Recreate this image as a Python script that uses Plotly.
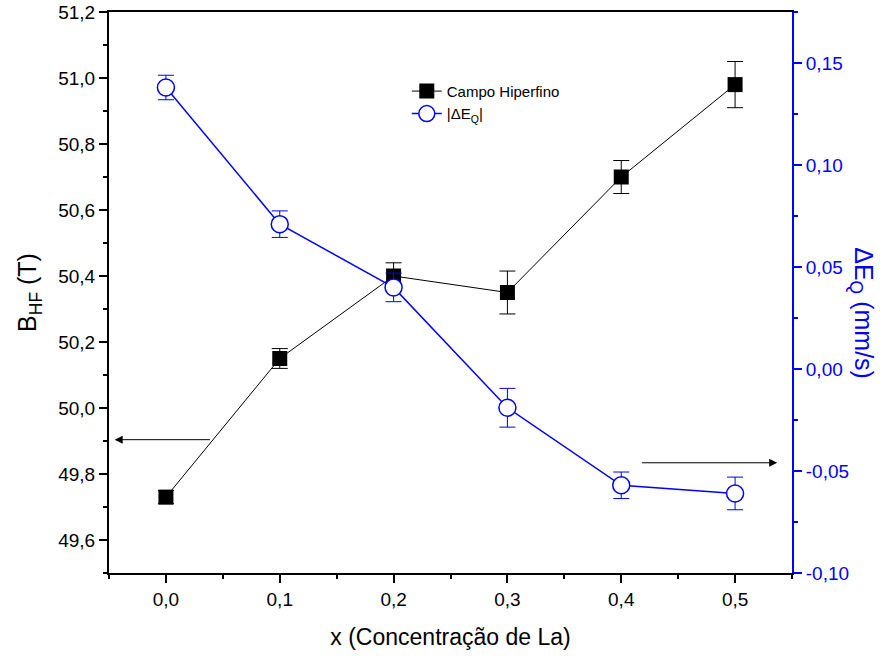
import plotly.graph_objects as go

x_conc = [0.0, 0.1, 0.2, 0.3, 0.4, 0.5]
b_hf = [49.73, 50.15, 50.40, 50.35, 50.70, 50.98]
b_hf_err = [0.02, 0.03, 0.04, 0.065, 0.05, 0.07]
deq = [0.138, 0.071, 0.040, -0.019, -0.057, -0.061]
deq_err = [0.006, 0.0065, 0.007, 0.0095, 0.0065, 0.008]

x_ticks = [0.0, 0.1, 0.2, 0.3, 0.4, 0.5]
x_ticktext = ["0,0", "0,1", "0,2", "0,3", "0,4", "0,5"]
y1_ticks = [49.6, 49.8, 50.0, 50.2, 50.4, 50.6, 50.8, 51.0, 51.2]
y1_ticktext = ["49,6", "49,8", "50,0", "50,2", "50,4", "50,6", "50,8", "51,0", "51,2"]
y2_ticks = [-0.10, -0.05, 0.0, 0.05, 0.10, 0.15]
y2_ticktext = ["-0,10", "-0,05", "0,00", "0,05", "0,10", "0,15"]

BLUE = "#0000ff"
FONT = "Liberation Sans, Arial, sans-serif"

fig = go.Figure()
fig.add_trace(go.Scatter(
    x=x_conc, y=deq, name="|ΔE<sub>Q</sub>|", mode="lines+markers", legendrank=2,
    line=dict(color=BLUE, width=1.5),
    marker=dict(symbol="circle", size=17, color="white", line=dict(width=1.5, color=BLUE)),
    error_y=dict(type="data", array=deq_err, color=BLUE, thickness=1, width=8),
    yaxis="y2",
))
fig.add_trace(go.Scatter(
    x=x_conc, y=b_hf, name="Campo Hiperfino", mode="lines+markers", legendrank=1,
    line=dict(color="black", width=1),
    marker=dict(symbol="square", size=15, color="black"),
    error_y=dict(type="data", array=b_hf_err, color="black", thickness=1, width=8),
    yaxis="y",
))

fig.update_layout(
    width=889, height=657,
    margin=dict(l=109, r=97, t=12, b=84, autoexpand=False),
    paper_bgcolor="white", plot_bgcolor="white",
    font=dict(family=FONT, size=18, color="black"),
    showlegend=True,
    legend=dict(x=0.436, y=0.888, xanchor="left", yanchor="top",
                bgcolor="rgba(0,0,0,0)", font=dict(size=15, family=FONT),
                tracegroupgap=0, itemwidth=30),
    xaxis=dict(
        range=[-0.05, 0.55], tickvals=x_ticks, ticktext=x_ticktext, automargin=False,
        showgrid=False, zeroline=False, showline=True, linecolor="black", linewidth=2,
        mirror=True, ticks="outside", ticklen=8, tickwidth=2, tickcolor="black",
        minor=dict(dtick=0.05, tick0=0, ticks="outside", ticklen=4, tickwidth=1.5, tickcolor="black"),
        title=dict(text="x (Concentração de La)", font=dict(size=23), standoff=20),
        tickfont=dict(size=19), ticklabeloverflow="allow",
    ),
    yaxis=dict(
        range=[49.5, 51.2], tickvals=y1_ticks, ticktext=y1_ticktext, automargin=False,
        showgrid=False, zeroline=False, showline=True, linecolor="black", linewidth=2,
        ticks="outside", ticklen=8, tickwidth=2, tickcolor="black",
        minor=dict(dtick=0.1, tick0=49.5, ticks="outside", ticklen=4, tickwidth=1.5, tickcolor="black"),
        title=dict(text="B<sub>HF</sub> (T)", font=dict(size=25), standoff=14),
        tickfont=dict(size=19), ticklabeloverflow="allow",
    ),
    yaxis2=dict(
        range=[-0.10, 0.175], tickvals=y2_ticks, ticktext=y2_ticktext, automargin=False,
        overlaying="y", side="right",
        showgrid=False, zeroline=False, showline=True, linecolor=BLUE, linewidth=2,
        ticks="outside", ticklen=8, tickwidth=2, tickcolor=BLUE,
        minor=dict(dtick=0.025, tick0=-0.1, ticks="outside", ticklen=4, tickwidth=1.5, tickcolor=BLUE),
        tickfont=dict(size=19, color=BLUE), ticklabeloverflow="allow",
    ),
    annotations=[
        dict(text="ΔE<sub>Q</sub> (mm/s)", xref="paper", yref="paper", x=1.1025, y=0.463,
             xanchor="center", yanchor="middle",
             showarrow=False, textangle=90, font=dict(size=25, color=BLUE, family=FONT)),
        dict(x=-0.045, y=49.904, ax=0.04, ay=49.904, xref="x", yref="y", axref="x", ayref="y",
             text="", showarrow=True, arrowhead=2, arrowsize=1.6, arrowwidth=1, arrowcolor="black"),
        dict(x=0.537, y=49.834, ax=0.417, ay=49.834, xref="x", yref="y", axref="x", ayref="y",
             text="", showarrow=True, arrowhead=2, arrowsize=1.6, arrowwidth=1, arrowcolor="black"),
    ],
)

fig.write_html("out.html", config={"displayModeBar": False},
               post_script="document.body.style.margin='0';document.body.style.overflow='hidden';")
